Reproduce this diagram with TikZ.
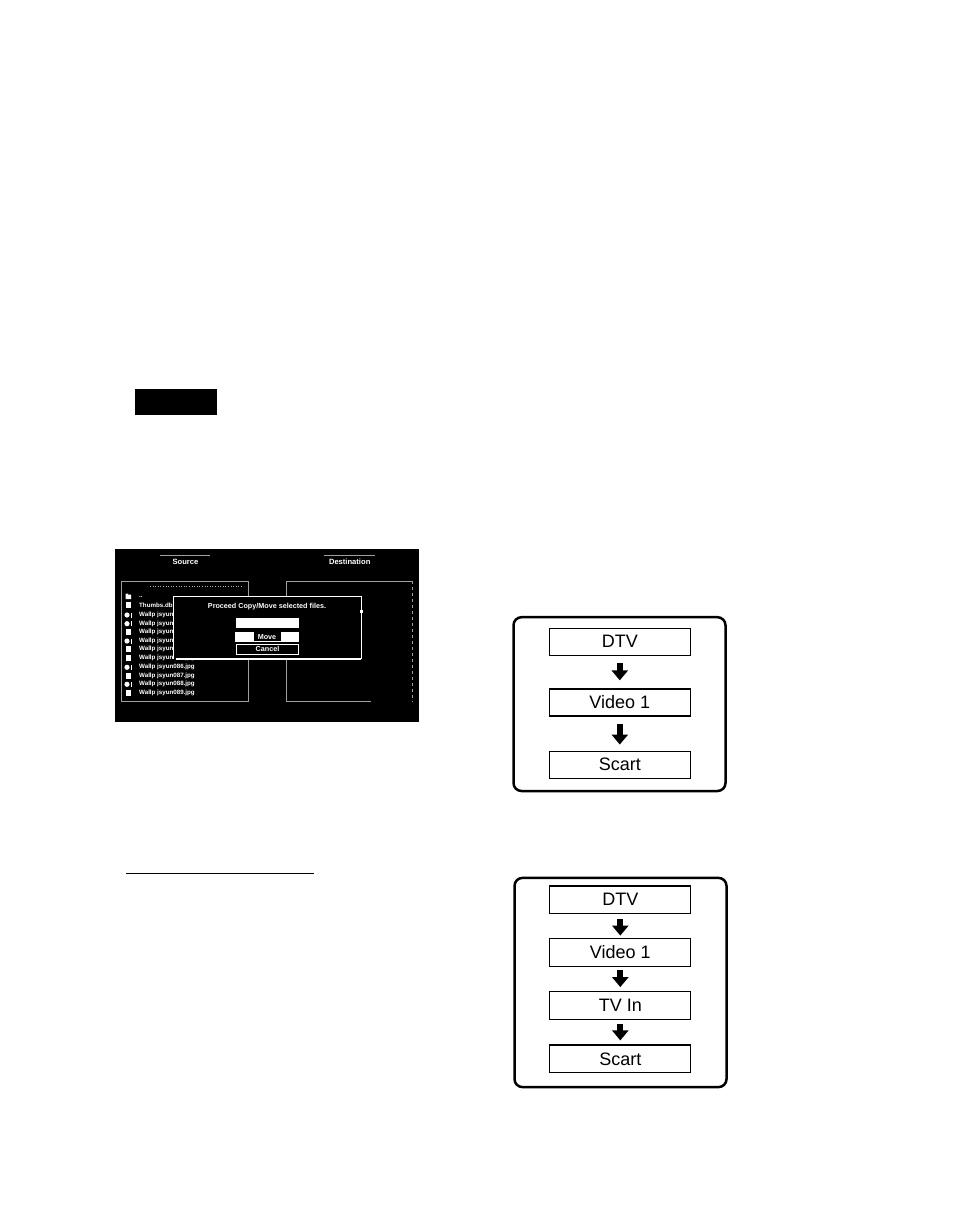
\documentclass[tikz,border=0pt]{standalone}
\usepackage{fontspec}
\setmainfont{Liberation Sans}
\usetikzlibrary{arrows.meta}
\tikzset{
  flowbox/.style={draw=black, line width=1.3pt, minimum width=141pt, minimum height=27pt, inner sep=0pt, font=\fontsize{18}{18}\selectfont},
  panel/.style={draw=black, line width=2.5pt, rounded corners=8pt},
  blockarrow/.style={line width=6pt, -{Triangle[width=16pt,length=10pt]}},
  scrtxt/.style={text=white, font=\fontsize{6.2}{7}\selectfont\bfseries, inner sep=0pt},
  hdrtxt/.style={scrtxt, font=\fontsize{7.6}{8}\selectfont\bfseries},
  dlgtxt/.style={scrtxt, font=\fontsize{7.2}{8}\selectfont\bfseries},
  listtxt/.style={scrtxt, anchor=west},
  sqicon/.style={fill=white, draw=none, minimum width=5pt, minimum height=6pt, inner sep=0pt},
  grayline/.style={draw=gray!75, line width=0.8pt},
}
\begin{document}
\begin{tikzpicture}[x=1pt,y=-1pt]
\useasboundingbox (0,0) rectangle (953,1221);

% black label box
\fill[black] (135,389) rectangle (217,415);
% underline
\draw[line width=1.3pt] (126,873.3) -- (314,873.3);

% ---------- screenshot ----------
\fill[black] (115,549) rectangle (419,722);
\draw[gray!75, line width=1.5pt] (159.7,555.7) -- (210.3,555.7);
\draw[gray!75, line width=1.5pt] (324,555.7) -- (374.7,555.7);
\node[hdrtxt] (src) at (185.5,561.5) {Source};
\node[hdrtxt] (dst) at (349.7,561.5) {Destination};
% left list box
\draw[grayline] (121.3,581) rectangle (248.7,701.3);
\draw[gray!60, line width=0.6pt, dotted] (150,586) -- (242,586);
% right box
\draw[grayline] (370.7,701.3) -- (286.3,701.3) -- (286.3,581) -- (412.3,581);
\draw[gray!75, line width=0.8pt, dashed] (412.3,581) -- (412.3,701.3);
\draw[gray!60, line width=0.6pt, dotted] (292,596) -- (300,596);
% folder row
\fill[white] (125.5,594.5) rectangle (131,599) (125.5,593.5) rectangle (128,594.5);
\node[listtxt] (up) at (139,596.7) {..};
% list rows
\foreach \y/\t/\k in {605/Thumbs.db/s, 615/Wallp jsyun080.jpg/c, 623.7/Wallp jsyun081.jpg/c, 631.7/Wallp jsyun082.jpg/s, 641/Wallp jsyun083.jpg/c, 649.3/Wallp jsyun084.jpg/s, 657.7/Wallp jsyun085.jpg/s, 667.3/Wallp jsyun086.jpg/c, 675.7/Wallp jsyun087.jpg/s, 684.3/Wallp jsyun088.jpg/c, 693.3/Wallp jsyun089.jpg/s}{
  \node[listtxt] at (139,\y) {\t};
  \if s\k
    \node[sqicon] at (128.3,\y) {};
  \else
    \fill[white] (127,\y) circle (2.6pt);
    \fill[white] (130.6,\y-2.5) rectangle (131.4,\y+2.5);
  \fi
}
% dialog
\fill[black] (173,596.7) rectangle (361.3,659);
\draw[white, line width=0.8pt] (173,659) -- (173,596.7) -- (361.3,596.7) -- (361.3,659);
\draw[white, line width=1.8pt] (176,658.7) -- (361.3,658.7);
\fill[white] (359.5,609.5) rectangle (362.5,612.5);
\node[dlgtxt] (title) at (267,607) {Proceed Copy/Move selected files.};
\node[fill=white, minimum width=62.4pt, minimum height=10pt, inner sep=0pt] (field) at (267.5,622.7) {};
\node[fill=white, minimum width=63.4pt, minimum height=10pt, inner sep=0pt] (movebtn) at (267,636.7) {};
\node[dlgtxt, fill=black, minimum width=27pt, minimum height=8.5pt] (move) at (267,636.7) {Move};
\node[dlgtxt, draw=white, line width=0.6pt, minimum width=62.4pt, minimum height=10pt] (cancel) at (267.5,649.2) {Cancel};

% ---------- flow 1 ----------
\draw[panel] (513.5,617.2) rectangle (725.5,791);
\node[flowbox] (a1) at (619.8,641.7) {DTV};
\node[flowbox] (b1) at (619.8,702.5) {Video 1};
\node[flowbox] (c1) at (619.8,764.7) {Scart};
\draw[blockarrow, shorten <=6.7pt, shorten >=8pt] (a1) -- (b1);
\draw[blockarrow, shorten <=7pt, shorten >=6pt] (b1) -- (c1);

% ---------- flow 2 ----------
\draw[panel] (514.5,877.9) rectangle (726.5,1087.1);
\node[flowbox, minimum height=27.5pt] (a2) at (620.3,899.7) {DTV};
\node[flowbox, minimum height=27.5pt] (b2) at (620.3,952.5) {Video 1};
\node[flowbox, minimum height=27.5pt] (c2) at (620.3,1005.5) {TV In};
\node[flowbox, minimum height=27.5pt] (d2) at (620.3,1058.8) {Scart};
\draw[blockarrow, shorten <=5pt, shorten >=2.5pt] (a2) -- (b2);
\draw[blockarrow, shorten <=3.5pt, shorten >=4pt] (b2) -- (c2);
\draw[blockarrow, shorten <=4pt, shorten >=4pt] (c2) -- (d2);
\end{tikzpicture}
\end{document}
